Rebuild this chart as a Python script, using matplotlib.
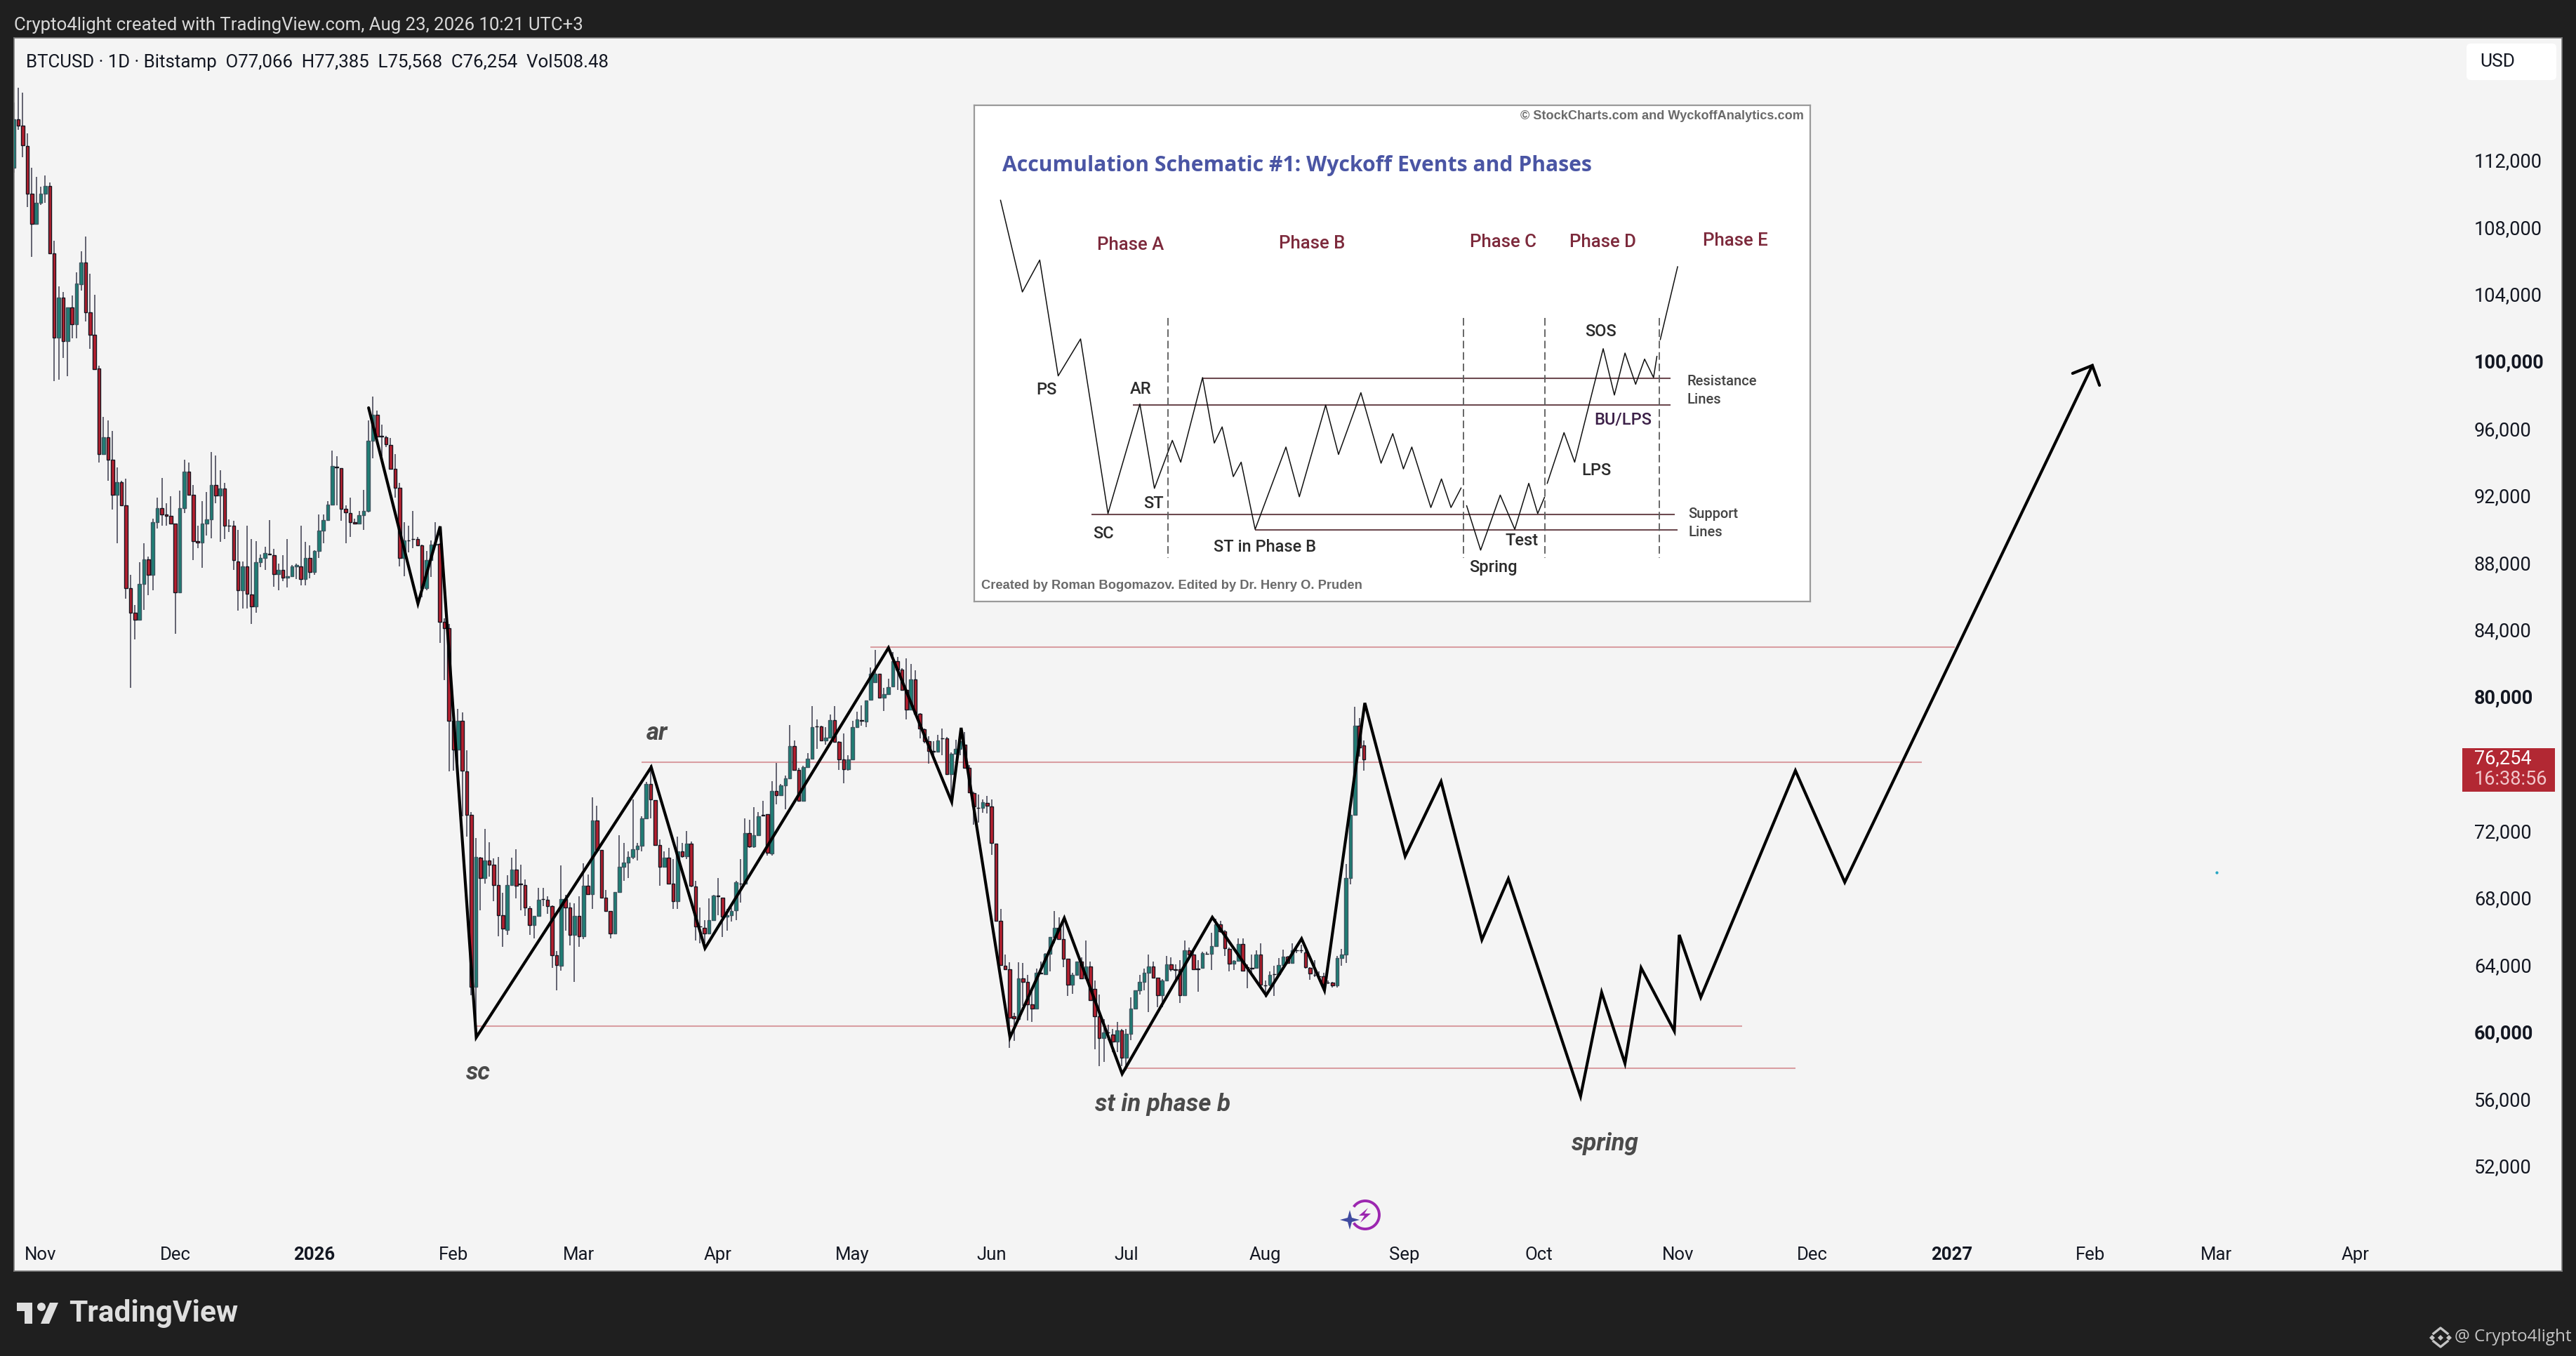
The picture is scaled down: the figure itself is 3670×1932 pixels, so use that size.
import numpy as np
import matplotlib
matplotlib.use("Agg")
import matplotlib.pyplot as plt
from matplotlib.patches import FancyBboxPatch, Rectangle, Circle, Polygon, Arc

plt.rcParams['font.family'] = ['Roboto', 'DejaVu Sans']

# Daily candles, first one is 26 Oct 2025 (day -6, day 0 = 1 Nov 2025)
first_day = -6
opens = [111528,114444,114040,112829,109987,108207,109464,109987,110436,106442,101387,103780,101208,103197,102180,104573,105874,102928,101552,
99542,94468,95456,94120,92010,92785,91396,86455,84986,84586,
86722,88191,87257,90381,91236,90862,90782,90328,86188,91236,
93399,92010,89260,89179,90328,90541,92598,91984,92411,90194,
90194,88058,86322,87737,86081,85360,88004,88271,88512,88432,
87310,87524,87070,87177,87764,87764,87016,88271,87417,88672,
89874,90515,91423,93720,93613,91183,90942,90381,90328,90809,
91076,95269,96818,95536,95456,95001,93559,92464,88271,89313,
89393,89393,88992,86455,88138,89046,89099,84452,84052,78523,
76841,78550,75532,72915,62686,70378,69149,70217,69977,68722,
66959,66078,68722,69683,68829,68749,67360,66345,66906,67920,
67867,67493,64556,63945,67890,67404,65759,66880,65684,68713,
68208,72583,70825,67992,67180,65871,68339,69835,70077,70433,
70863,71106,72732,74789,73816,71143,69835,70395,68806,67778,
70769,70451,71199,68657,66282,66189,65871,66656,68096,67992,
66843,66937,67217,68843,68843,71835,71050,71704,72919,72956,
70638,74359,74097,74695,75106,77032,75592,73760,75761,76284,
78210,78191,77369,77555,78565,77275,76228,75649,76228,78154,
78565,78490,79799,80827,81332,79930,80117,80584,82080,81612,
80397,79219,80995,78958,78023,77313,76752,76696,77499,77499,
75349,76564,76845,77126,75723,74228,73349,73349,73629,73443,
71199,66600,63945,63721,60916,60753,63180,62975,61608,61386,
63488,63437,64650,65624,66171,65505,64342,62804,63402,64172,
63180,63864,62548,60925,59608,59950,59813,59421,60070,58446,
59848,61386,62445,62975,63488,63881,63232,62172,63061,63999,
63710,63710,62172,64855,64599,63744,63795,64650,64650,65112,
66393,65966,64941,64035,64206,65231,63830,63795,63795,64599,
62770,62804,63437,63437,63950,64479,64086,64855,64855,64736,
63795,63402,63317,63317,62941,62924,62753,64377,64599,69179,
72922,78237,77066]
highs = [115416,116313,116014,113591,111527,111004,110406,111079,110660,107190,104453,104124,103197,103900,105320,106547,107415,105216,103975,
99729,96657,96470,95856,93666,92865,92999,87257,85440,88004,
89126,88325,90595,91850,93025,91530,91930,90328,92277,94120,
93933,92598,90194,91663,92197,94574,94387,93479,92731,90541,
90461,89927,88058,90194,89393,89260,88458,88939,90515,88805,
87924,88405,89393,87844,87924,90194,89206,88992,88725,90862,
90862,91663,94681,94334,93613,91396,91850,90595,91049,92331,
96470,97886,97058,96203,95536,95402,94468,92731,90381,90194,
91049,89527,89072,88672,89313,90381,89126,84639,84319,79244,
79244,79030,76761,73102,71553,70431,72087,71286,70351,70431,
68294,69310,70378,70885,69950,69096,67493,66906,68562,68562,
68081,67547,64823,69928,68152,67684,67647,68058,70021,69367,
73985,73480,70825,68432,67180,68339,71704,71237,70769,73854,
71237,72826,74882,75910,73816,71480,70769,70956,70301,71611,
71237,71947,71330,68993,67404,66656,67965,68152,69180,67992,
67311,67404,68993,70301,72732,72639,73387,73106,73760,72956,
74938,76041,74789,75293,78285,77369,75723,75854,76621,79406,
78621,78247,78154,78901,79425,77312,77780,76471,78528,79089,
79462,79743,81706,82771,81332,80491,81051,82640,82360,81668,
82267,81930,81575,78995,78060,77630,77313,77686,78060,77593,
76658,77406,77967,77873,75910,74321,74134,73854,74078,73854,
71199,67311,64600,64132,61141,64137,64086,63402,62548,63744,
64172,64684,65658,67196,66821,66735,64342,63488,64172,64428,
65453,64172,63027,62206,60753,60412,60155,60583,60155,60155,
62035,62445,63402,63744,64599,64172,63232,63146,64513,64428,
63999,64257,65453,65026,64855,64257,64770,64770,65880,66735,
66615,66051,65026,64257,65539,65539,64000,64599,64855,65248,
63027,63573,63915,64394,64907,64513,65282,65112,65197,64855,
63830,64257,63573,63488,63060,62975,64513,64941,69982,73314,
79382,78698,77385]
lows = [111228,113816,112171,109209,106218,108207,109314,109464,106442,98815,98890,100191,99114,101358,101358,104199,102375,100729,99533,
93933,94468,92865,91129,89126,91396,85841,80499,83384,84586,
85173,86055,86322,90007,90194,90194,90328,83731,86188,90942,
92010,88111,88859,87657,89607,89447,91530,89206,89393,89794,
87524,85120,85253,85253,84319,84986,87711,87524,88458,86535,
86322,86856,86509,87123,86989,86642,86642,87043,87257,88245,
89126,90515,91423,91396,90461,89126,89527,90248,90248,89927,
90995,94200,95135,94334,94868,93533,91877,87737,87177,88592,
88859,88992,85921,86322,87123,89046,83170,80980,75505,75585,
75772,72835,71633,62152,59748,67226,68829,69229,67760,65677,
65036,65757,68696,67947,67226,66906,65757,65570,66906,67493,
67013,63808,62472,63621,65999,65161,62955,65067,65535,68152,
67311,70769,67992,67180,65572,65815,68339,68993,69180,70301,
70208,70769,72732,72732,71143,68713,69835,68806,67311,67311,
70395,70301,68620,65441,65254,65254,65815,66600,66937,65628,
65999,66563,66656,67684,68806,70956,70956,71704,72826,70489,
70489,73573,74041,73256,75069,75630,73760,73723,75723,76284,
76845,77312,77125,77499,77275,75592,74826,75574,76191,78154,
78247,78154,79799,80827,79930,79126,80117,80584,80397,80397,
78621,79219,78902,77499,77219,75966,76471,76658,76471,75349,
73667,76564,76471,75686,74228,72358,72452,73069,73013,70545,
66600,63983,63721,59047,59459,60668,61523,60668,60583,61352,
63437,63402,63573,65282,65505,63830,62121,62241,63402,63180,
63146,61864,58959,57934,58190,59472,58788,58788,57934,57677,
59472,61386,62206,62462,61181,63198,61437,61437,63061,63573,
63061,61694,62121,64257,63659,62377,63744,64599,63659,65112,
65880,64513,63573,63659,64172,63573,62582,63488,63744,62719,
62035,62719,62121,63437,63950,64086,64086,64684,64684,63744,
63095,63266,63197,62633,62855,62633,62633,63915,64086,68786,
72888,76391,75568]
closes = [114444,114040,112874,109987,108207,109464,109987,110436,106442,101387,103780,101178,103197,102180,104618,105874,102928,101552,99533,
94468,95456,94120,92010,92785,91396,86455,84986,84586,86722,
88191,87257,90381,91236,90862,90782,90328,86188,91236,93399,
92010,89260,89179,90328,90541,92598,91984,92411,90194,90167,
88111,86322,87737,86108,85360,88004,88271,88538,88458,87310,
87524,87070,87150,87764,87817,87016,88271,87417,88672,89874,
90515,91423,93746,93666,91183,90969,90408,90328,90809,91076,
95269,96818,95482,95509,95028,93559,92464,88271,89313,89286,
89366,88992,86455,88138,89046,89099,84452,84052,78523,76841,
78550,75585,72915,62686,70431,69149,70217,69977,68722,66959,
66131,68722,69683,68696,68802,67386,66345,66906,67867,67894,
67493,64556,63968,67890,67404,65759,66880,65684,68713,68208,
72583,70825,67992,67180,65871,68339,69835,70077,70433,70863,
71106,72732,74789,73854,71143,69835,70395,68806,67778,70769,
70451,71199,68713,66282,66264,65871,66656,68114,68077,66843,
66937,67180,68899,68825,71835,71050,71704,72863,72900,70676,
74359,74097,74695,75106,77032,75630,73760,75761,76284,78154,
78191,77369,77555,78565,77275,76228,75649,76228,78154,78621,
78546,79743,81332,81332,79930,80117,80547,82080,81612,80397,
79219,80995,78958,78060,77313,76752,76696,77369,77481,75349,
76564,76845,77313,75723,74265,73424,73330,73667,73480,71237,
66600,63983,63721,60823,60767,63180,62975,61642,61386,63488,
63471,64650,65624,66171,65505,64342,62804,63402,64172,63180,
63864,61864,60925,59608,59933,59933,59421,60070,58446,59848,
61386,62445,62975,63488,63881,63232,62172,63061,63999,63710,
63693,62172,64855,64599,63710,63727,64684,64633,65112,66393,
65966,64975,64035,64206,65231,63625,63813,63778,64599,62804,
62753,63402,63420,63950,64479,64086,64855,64838,64838,63830,
63454,63385,63300,62838,62924,62753,64377,64599,69179,72922,
78237,76955,76254]

# Hand drawn zigzag and its projection
path_days = [73.1,84.1,89.05,97.1,136.1,148.1,189.0,203.1,205.2,216.1,228.2,241.1,261.2,273.2,281.1,286.2,295.2,
             304.2,312.2,321.3,327.2,343.3,348.0,353.2,356.8,364.2,365.3,370.1,391.2,402.2,457.4]
path_prices = [97218,85534,90141,59655,75777,64973,82896,73704,78122,59655,66774,57477,66816,62168,65539,62461,79605,
               70459,74918,65476,69119,56138,62335,58106,63801,60032,65769,62042,75568,68910,99743]
arrow_days = [453.0,457.4,459.0]
arrow_prices = [99270,99743,98558]

# Horizontal levels: price, from day, to day
level_prices = [82938,76070,60325,57812]
level_start = [185,134,97,242.1]
level_end = [426.8,419.4,379.3,391.2]

month_days = [0,30,61,92,120,151,181,212,242,273,304,334,365,395,426,457,485,516]
month_labels = ['Nov','Dec','2026','Feb','Mar','Apr','May','Jun','Jul','Aug','Sep','Oct','Nov','Dec','2027','Feb','Mar','Apr']
price_ticks = [112000,108000,104000,100000,96000,92000,88000,84000,80000,76000,72000,68000,64000,60000,56000,52000]
bold_prices = [100000,80000,60000]

# Wyckoff schematic, in the units of the inset box
schem_x1 = [95,134,165,198,238,287,344,370,402,417,456,477,491,511,525,550,605,629,676,699,739,775,796,815,830,864,883,900,918]
schem_y1 = [325,598,503,848,738,1258,932,1183,1040,1105,853,1048,1000,1148,1105,1305,1060,1208,935,1082,898,1108,1020,1125,1060,1240,1155,1240,1182]
schem_x2 = [928,953,988,1014,1039,1055,1067]
schem_y2 = [1235,1367,1203,1305,1168,1258,1210]
schem_x3 = [1072,1102,1121,1172,1192,1211,1230,1246,1262,1268]
schem_y3 = [1168,1017,1105,767,905,780,873,798,853,790]
schem_x4 = [1274,1305]
schem_y4 = [740,523]
schem_levels = [855,934,1260,1307]
schem_level_start = [456,331,258,550]
schem_level_end = [1292,1292,1300,1305]
schem_phase_x = [394,922,1068,1272]
phase_names = ['Phase A','Phase B','Phase C','Phase D','Phase E']
phase_x = [327,651,993,1171,1408]
phase_y = [458,453,450,450,445]
event_names = ['PS','AR','ST','SC','ST in Phase B','Test','Spring','LPS','SOS']
event_x = [177,346,369,279,567,1026,976,1160,1168]
event_y = [890,887,1228,1318,1357,1340,1418,1130,716]
side_names = ['Resistance','Lines','Support','Lines']
side_x = [1322,1322,1324,1324]
side_y = [865,920,1260,1315]

W, H = 3670, 1932
DARK = '#1f1f1f'
PANEL = '#f4f4f4'
TEXT = '#131722'

fig = plt.figure(figsize=(W / 100, H / 100), dpi=100, facecolor=DARK)
ax = fig.add_axes([20 / W, 1 - 1811 / H, 3630 / W, 1757 / H], facecolor=PANEL)
ax.set_xlim(-5.95, 562.1)
ax.set_ylim(45710, 119286)

days = first_day + np.arange(len(closes))
opens_a = np.array(opens)
closes_a = np.array(closes)
up = closes_a >= opens_a

# Candles
ax.vlines(days, lows, highs, color='#3c3c4c', lw=1.1, zorder=2)
ax.bar(days[up], closes_a[up] - opens_a[up], 0.72, opens_a[up], color='#1f7d74',
       edgecolor='#3f5560', linewidth=1.0, zorder=3)
ax.bar(days[~up], closes_a[~up] - opens_a[~up], 0.72, opens_a[~up], color='#b3202f',
       edgecolor='#15151f', linewidth=1.0, zorder=3)

# Levels and the zigzag
ax.hlines(level_prices, level_start, level_end, color='#d99ea2', lw=1.5, zorder=1)
ax.plot(path_days, path_prices, color='black', lw=3.0, solid_joinstyle='miter', solid_capstyle='round', zorder=5)
ax.plot(arrow_days, arrow_prices, color='black', lw=3.0, solid_joinstyle='miter', solid_capstyle='round', zorder=5)

# Axis labels live inside the panel
ax.yaxis.tick_right()
ax.set_yticks(price_ticks)
ax.set_yticklabels(['' if p == 76000 else f'{p:,}' for p in price_ticks])
for lab, p in zip(ax.get_yticklabels(), price_ticks):
    lab.set_fontweight('bold' if p in bold_prices else 'normal')
ax.set_xticks(month_days)
ax.set_xticklabels(month_labels)
for lab in ax.get_xticklabels():
    lab.set_fontweight('bold' if lab.get_text() in ('2026', '2027') else 'normal')
ax.tick_params(axis='y', length=0, pad=-90, labelsize=19.5, labelcolor=TEXT)
ax.tick_params(axis='x', length=0, pad=-25, labelsize=18.5, labelcolor=TEXT)
for sp in ax.spines.values():
    sp.set_color('#7c7c7c')
    sp.set_linewidth(1.2)

# Overlay in picture pixels for labels and page furniture
top = fig.add_axes([0, 0, 1, 1], facecolor='none')
top.set_xlim(0, W)
top.set_ylim(H, 0)
top.axis('off')

top.text(20, 36, 'Crypto4light created with TradingView.com, Aug 23, 2026 10:21 UTC+3',
         color='#d8d8d8', fontsize=18.5, va='center')
top.text(37, 89, 'BTCUSD · 1D · Bitstamp  O77,066  H77,385  L75,568  C76,254  Vol508.48',
         color=TEXT, fontsize=18.6, va='center')

top.add_patch(FancyBboxPatch((3520, 68), 116, 40, boxstyle='round,pad=6,rounding_size=6',
                             fc='white', ec='none'))
top.text(3533, 88, 'USD', color=TEXT, fontsize=19, va='center')

top.add_patch(Rectangle((3508, 1066), 132, 62, fc='#b22833', ec='none'))
top.text(3525, 1081, '76,254', color='white', fontsize=19.5, va='center')
top.text(3525, 1110, '16:38:56', color='#f2c9cd', fontsize=19.5, va='center')

annot = dict(color='#4a4a4a', fontsize=25, fontweight='bold', fontstyle='italic', ha='center', va='center')
top.text(936, 1044, 'ar', **annot)
top.text(681, 1528, 'sc', **annot)
top.text(1657, 1574, 'st in phase b', **annot)
top.text(2287, 1630, 'spring', **annot)

top.plot([3158], [1243], 'o', color='#26a6c4', ms=2)

# Lightning badge near the time axis
top.add_patch(Arc((1945, 1731), 40, 40, theta1=-145, theta2=145, ec='#9c27b0', lw=2.8, zorder=4))
top.add_patch(Polygon([[1949, 1721], [1936, 1732], [1944, 1732], [1938, 1742], [1953, 1729], [1944, 1729]],
                      fc='#9c27b0', ec='none', zorder=4))
top.add_patch(Polygon([[1923, 1724], [1926, 1735], [1937, 1738], [1926, 1741], [1923, 1752], [1920, 1741], [1909, 1738], [1920, 1735]],
                      fc='#3f4aa0', ec='none', zorder=5))

# Footer
top.add_patch(Polygon([[24, 1856], [46, 1856], [46, 1886], [35, 1886], [35, 1868], [24, 1868]], fc='#dedede', ec='none'))
top.add_patch(Circle((59, 1862), 6, fc='#dedede', ec='none'))
top.add_patch(Polygon([[71, 1856], [83, 1856], [70, 1886], [58, 1886]], fc='#dedede', ec='none'))
top.text(98, 1872, 'TradingView', color='#dedede', fontsize=30.6, fontweight='bold', va='center')
top.text(3497, 1905, '@ Crypto4light', color='#c4c4c4', fontsize=17.5, va='center', family=['Open Sans', 'DejaVu Sans'])
top.plot([3467, 3477, 3487], [1900, 1892, 1900], color='#c4c4c4', lw=2.4)
top.plot([3467, 3477, 3487], [1911, 1919, 1911], color='#c4c4c4', lw=2.4)
top.plot([3465, 3477, 3489], [1906, 1906, 1906], 'D', color='#c4c4c4', ms=4, mew=0)

# Inset schematic
box = fig.add_axes([1388 / W, 1 - 857 / H, 1191 / W, 707 / H], facecolor='white')
box.set_xlim(48, 1542)
box.set_ylim(1520, 42)
box.set_xticks([])
box.set_yticks([])
for sp in box.spines.values():
    sp.set_color('#9a9a9a')
    sp.set_linewidth(1.6)

box.hlines(schem_levels, schem_level_start, schem_level_end, color='#6d4a50', lw=1.5)
box.vlines(schem_phase_x, 675, 1390, color='#5a5a5a', lw=1.3, linestyles=(0, (6, 3)))
for sx, sy in [(schem_x1, schem_y1), (schem_x2, schem_y2), (schem_x3, schem_y3), (schem_x4, schem_y4)]:
    box.plot(sx, sy, color='#111111', lw=1.1)

box.text(1530, 75, '© StockCharts.com and WyckoffAnalytics.com', ha='right', va='center',
         color='#6a6a6a', fontsize=13.1, fontweight='bold', family=['Liberation Sans', 'DejaVu Sans'])
box.text(98, 222, 'Accumulation Schematic #1: Wyckoff Events and Phases', va='center',
         color='#4a55a4', fontsize=21.7, fontweight='bold', family=['Open Sans', 'DejaVu Sans'])
for name, x, y in zip(phase_names, phase_x, phase_y):
    box.text(x, y, name, ha='center', va='center', color='#7d2a3c', fontsize=18.5, fontweight='medium')
for name, x, y in zip(event_names, event_x, event_y):
    box.text(x, y, name, ha='center', va='center', color='#2b2b2b', fontsize=17, fontweight='medium')
box.text(1207, 978, 'BU/LPS', ha='center', va='center', color='#3c2048', fontsize=17, fontweight='medium')
for name, x, y in zip(side_names, side_x, side_y):
    box.text(x, y, name, va='center', color='#444444', fontsize=14.5, fontweight='medium')
box.text(60, 1474, 'Created by Roman Bogomazov. Edited by Dr. Henry O. Pruden', va='center',
         color='#6a6a6a', fontsize=13.2, fontweight='bold', family=['Liberation Sans', 'DejaVu Sans'])

fig.savefig('out.png', dpi=100, facecolor=DARK)
